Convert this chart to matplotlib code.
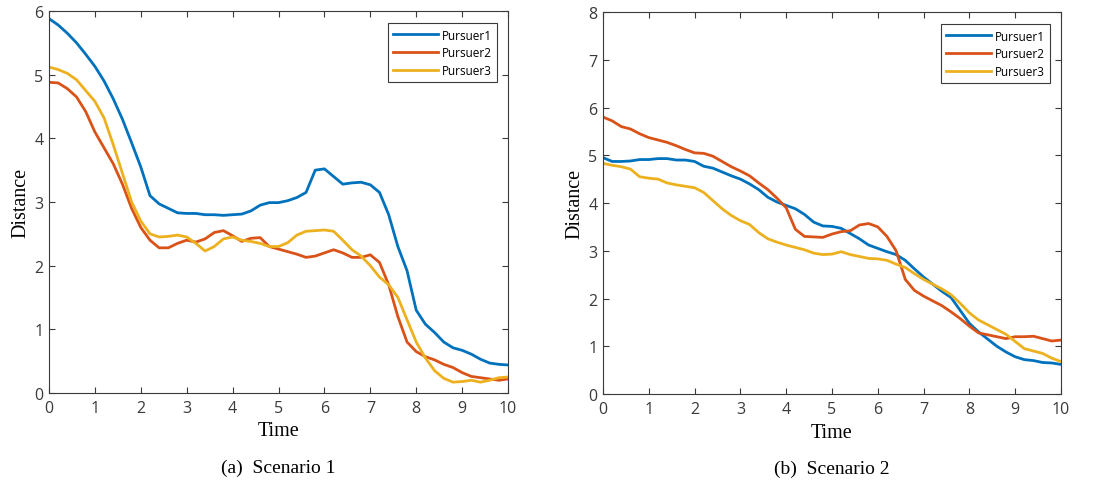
import matplotlib
matplotlib.use("Agg")
import matplotlib.pyplot as plt
import numpy as np

# time grid shared by all series (step 0.2)
time = [round(0.2 * i, 1) for i in range(51)]

# Scenario 1
s1_p1 = [5.88, 5.78, 5.65, 5.50, 5.32, 5.13, 4.90, 4.62, 4.30, 3.93,
         3.55, 3.10, 2.97, 2.90, 2.83, 2.82, 2.82, 2.80, 2.80, 2.79,
         2.80, 2.81, 2.86, 2.95, 2.99, 2.99, 3.02, 3.07, 3.15, 3.50,
         3.52, 3.40, 3.28, 3.30, 3.31, 3.27, 3.15, 2.80, 2.30, 1.92,
         1.30, 1.08, 0.95, 0.80, 0.71, 0.67, 0.61, 0.53, 0.47, 0.45,
         0.44]
s1_p2 = [4.88, 4.87, 4.78, 4.65, 4.42, 4.10, 3.85, 3.60, 3.28, 2.90,
         2.60, 2.40, 2.28, 2.28, 2.35, 2.40, 2.37, 2.42, 2.52, 2.55,
         2.47, 2.38, 2.43, 2.44, 2.30, 2.26, 2.22, 2.18, 2.13, 2.15,
         2.20, 2.25, 2.20, 2.13, 2.13, 2.17, 2.05, 1.70, 1.20, 0.80,
         0.65, 0.57, 0.52, 0.45, 0.40, 0.32, 0.26, 0.24, 0.22, 0.20,
         0.22]
s1_p3 = [5.12, 5.08, 5.02, 4.92, 4.75, 4.58, 4.32, 3.90, 3.45, 3.00,
         2.70, 2.50, 2.45, 2.46, 2.48, 2.45, 2.35, 2.23, 2.30, 2.42,
         2.45, 2.40, 2.38, 2.35, 2.30, 2.30, 2.36, 2.48, 2.54, 2.55,
         2.56, 2.54, 2.40, 2.25, 2.15, 2.00, 1.82, 1.70, 1.50, 1.15,
         0.80, 0.55, 0.35, 0.23, 0.17, 0.18, 0.20, 0.17, 0.20, 0.24,
         0.25]

# Scenario 2
s2_p1 = [4.95, 4.87, 4.87, 4.88, 4.91, 4.91, 4.93, 4.93, 4.90, 4.90,
         4.87, 4.77, 4.73, 4.65, 4.57, 4.50, 4.40, 4.28, 4.12, 4.02,
         3.95, 3.88, 3.76, 3.60, 3.52, 3.51, 3.47, 3.36, 3.25, 3.12,
         3.05, 2.98, 2.92, 2.80, 2.62, 2.45, 2.30, 2.15, 2.02, 1.75,
         1.48, 1.30, 1.15, 1.00, 0.88, 0.78, 0.72, 0.70, 0.66, 0.65,
         0.62]
s2_p2 = [5.80, 5.72, 5.60, 5.55, 5.45, 5.37, 5.32, 5.27, 5.20, 5.12,
         5.05, 5.04, 4.98, 4.87, 4.76, 4.67, 4.57, 4.42, 4.28, 4.10,
         3.90, 3.45, 3.30, 3.29, 3.28, 3.35, 3.40, 3.42, 3.54, 3.57,
         3.50, 3.30, 3.00, 2.40, 2.17, 2.05, 1.95, 1.85, 1.72, 1.58,
         1.42, 1.28, 1.24, 1.20, 1.16, 1.20, 1.20, 1.21, 1.16, 1.11,
         1.13]
s2_p3 = [4.83, 4.79, 4.76, 4.71, 4.55, 4.52, 4.50, 4.42, 4.38, 4.35,
         4.32, 4.22, 4.05, 3.88, 3.74, 3.63, 3.55, 3.38, 3.25, 3.18,
         3.12, 3.07, 3.02, 2.95, 2.92, 2.93, 2.98, 2.92, 2.88, 2.84,
         2.83, 2.80, 2.72, 2.65, 2.52, 2.40, 2.30, 2.20, 2.08, 1.90,
         1.70, 1.55, 1.45, 1.35, 1.25, 1.10, 0.95, 0.90, 0.85, 0.75,
         0.68]

labels = ["Pursuer1", "Pursuer2", "Pursuer3"]
colors = ["#0072BD", "#D95319", "#EDB120"]
captions = ["(a)  Scenario 1", "(b)  Scenario 2"]

AX_COLOR = "#3a3a3a"
SANS = "Open Sans"
SERIF = "Liberation Serif"

fig = plt.figure(figsize=(11.03, 4.89), dpi=100)
ax1 = fig.add_axes([0.0444, 0.1943, 0.4162, 0.7812])
ax2 = fig.add_axes([0.5467, 0.1922, 0.4152, 0.7812])

panels = [(ax1, [s1_p1, s1_p2, s1_p3], 6),
          (ax2, [s2_p1, s2_p2, s2_p3], 8)]

for (ax, series, ymax), cap in zip(panels, captions):
    for ys, lab, col in zip(series, labels, colors):
        ax.plot(time, ys, color=col, lw=2.0, label=lab, solid_joinstyle="round")
    ax.set_xlim(0, 10)
    ax.set_ylim(0, ymax)
    ax.set_xticks(range(0, 11))
    ax.set_yticks(range(0, ymax + 1))
    ax.tick_params(direction="in", length=4, width=0.8, top=True, right=True,
                   colors=AX_COLOR, labelsize=11.5, pad=4)
    ax.tick_params(axis="x", pad=5)
    for lbl in ax.get_xticklabels() + ax.get_yticklabels():
        lbl.set_fontfamily(SANS)
    for sp in ax.spines.values():
        sp.set_color(AX_COLOR)
        sp.set_linewidth(0.8)
    ax.set_xlabel("Time", fontfamily=SERIF, fontsize=14.5, labelpad=4)
    ax.set_ylabel("Distance", fontfamily=SERIF, fontsize=14.5, labelpad=3)
    leg = ax.legend(loc="upper right", prop={"family": SANS, "size": 8.5},
                    handlelength=3.8, handletextpad=0.3, borderpad=0.45,
                    labelspacing=0.4, fancybox=False, framealpha=1,
                    borderaxespad=0, bbox_to_anchor=(0.976, 0.968))
    leg.get_frame().set_edgecolor(AX_COLOR)
    leg.get_frame().set_linewidth(0.8)
    ax.text(0.5, -0.194, cap, transform=ax.transAxes, ha="center", va="center",
            fontfamily=SERIF, fontsize=14)

fig.savefig("out.png", dpi=100)
